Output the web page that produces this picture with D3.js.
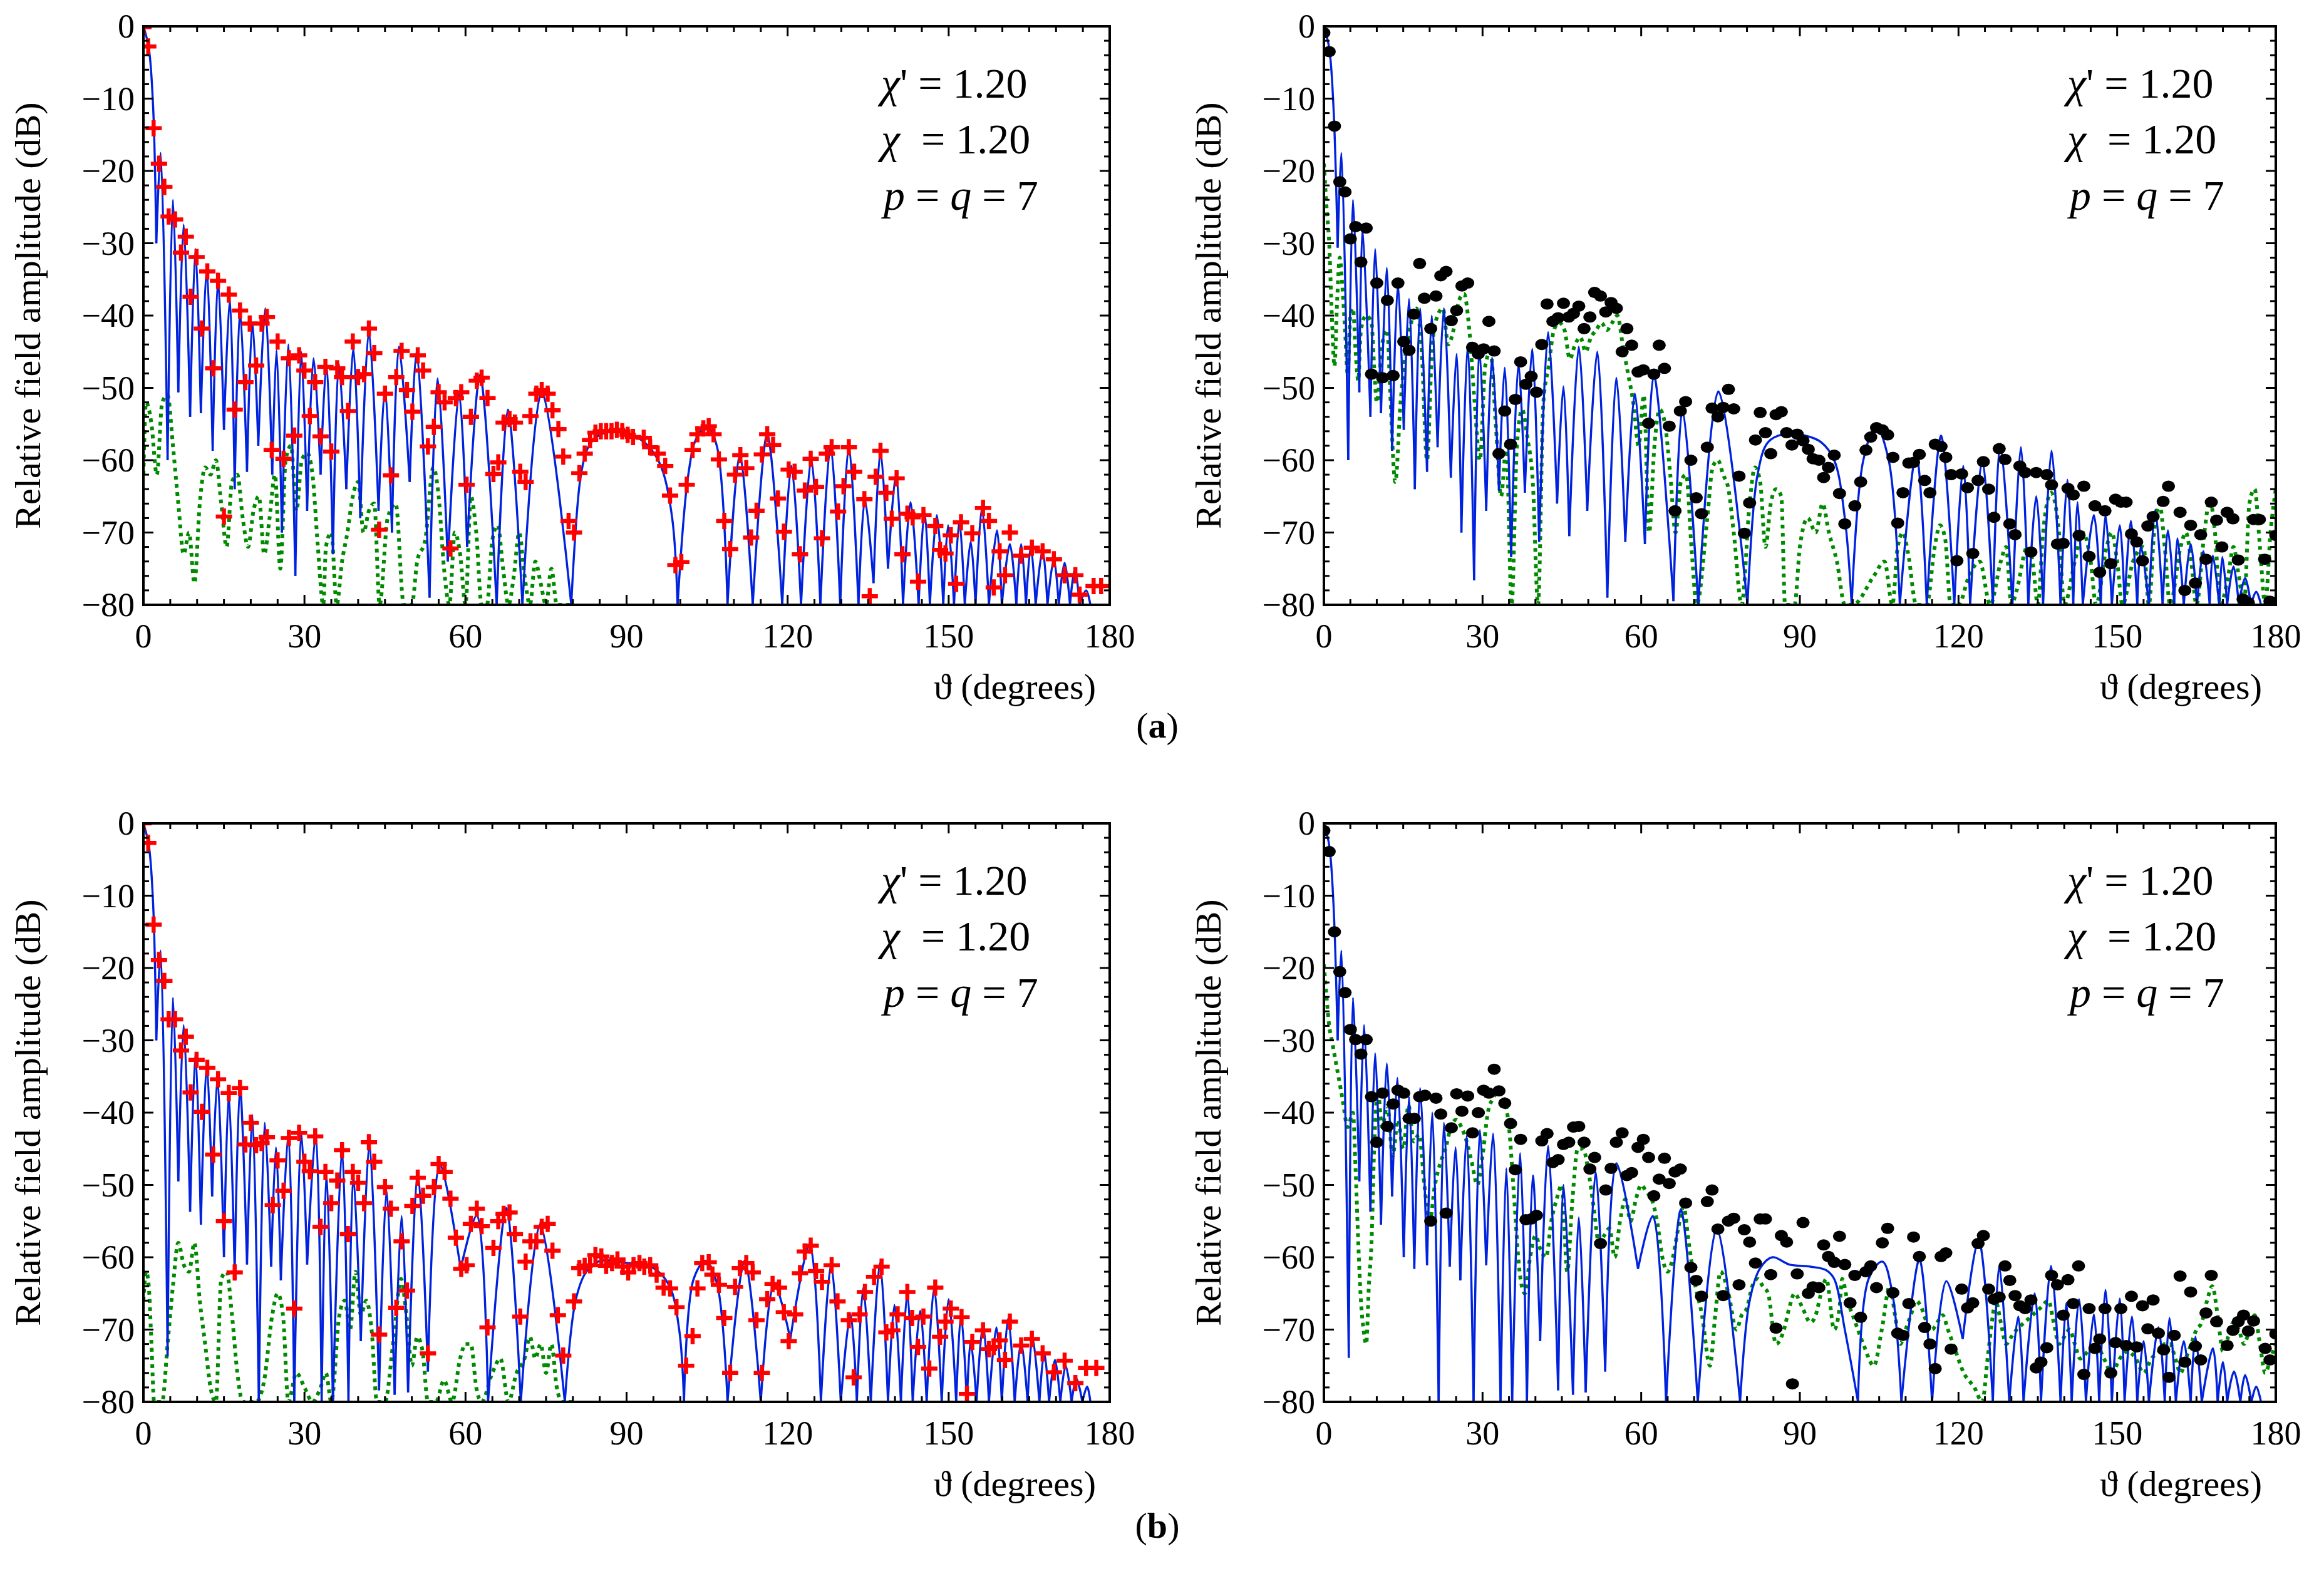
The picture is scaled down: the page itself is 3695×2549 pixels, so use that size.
<!DOCTYPE html>
<html><head><meta charset="utf-8">
<script src="https://cdn.jsdelivr.net/npm/d3@7"></script>
<style>body{margin:0;background:#fff}svg{display:block}</style>
</head><body>
<script>
const xTicks=[0,30,60,90,120,150,180];
const yTicks=[0,-10,-20,-30,-40,-50,-60,-70,-80];
const annotChi=["'",""];
const annotVal="1.20";

const blueA1=[[0,0],[1,-3],[1.8,-11],[2.4,-30],[3.2,-17.5],[4.5,-60],[5.5,-24],[6.5,-50.6],[7.5,-27.4],[8.7,-54],[9.7,-30.8],[10.7,-53.5],[11.8,-33.4],[12.9,-58.7],[13.9,-35],[15,-55.8],[16.1,-37.7],[17,-64],[18,-39.3],[19.3,-61.6],[20.3,-40.9],[21.4,-58],[22.7,-39],[24,-62],[24.8,-44.8],[25.8,-70],[27,-44],[28.3,-76],[29.4,-45],[30.5,-67],[31.7,-45.9],[33,-62],[34.1,-46.6],[35.3,-73],[36.4,-46.6],[37.8,-64],[39.1,-44.5],[40.4,-68],[42,-42.2],[43.8,-67],[45,-50],[46.3,-70],[47.6,-44.3],[49.6,-63],[50.9,-45],[53.3,-79],[54.8,-48.7],[56.7,-74],[58.8,-50.8],[60.3,-72],[62.7,-48.2],[65.8,-80],[67.9,-53],[70.6,-80],[74.2,-50.6],[79.7,-80],[81.5,-62],[83,-58],[85,-56.5],[88,-56],[91,-56.5],[94,-58],[96.5,-61],[98.5,-68],[99.5,-80],[101.5,-62],[103,-57],[105,-55.3],[106.8,-58],[108.8,-80],[111.1,-59.2],[113.5,-80],[116.2,-56.4],[119,-80],[120.7,-60.8],[122.5,-80],[124.4,-59.8],[126.1,-80],[128,-58],[129.8,-80],[131.4,-58],[133.2,-80],[134.4,-65.5],[136,-77],[137.3,-58.7],[138.7,-75],[140.2,-61.9],[141.5,-80],[142.9,-65.8],[144.4,-80],[145.5,-67],[146.5,-80],[147.8,-67.6],[149,-80],[149.9,-69],[151,-80],[152,-68.4],[153,-80],[154.1,-71.3],[155,-80],[156.2,-66.6],[157.5,-80],[159,-69.7],[159.9,-80],[161.4,-71.6],[162.6,-80],[163.5,-71.6],[164.4,-80],[165.3,-71.9],[166.2,-80],[167.5,-72.4],[168.4,-80],[169.6,-73.7],[170.5,-80],[171.6,-74.2],[172.6,-80],[173.5,-75],[174.4,-80],[175.6,-78],[176.4,-80]];
const greenA1=[[0,-62],[0.5,-52],[1.5,-55],[2.5,-62],[3.5,-52],[4.5,-51],[5.5,-58],[6.5,-66],[7.5,-73],[8.5,-70],[9.5,-77],[10.5,-66],[11.5,-61],[12.5,-62],[13.5,-60],[14.5,-66],[15.5,-72],[16.5,-63],[17.5,-62],[18.5,-68],[19.5,-72],[20.5,-67],[21.5,-65],[22.5,-73],[23.5,-68],[24.5,-62],[25.5,-75],[26.5,-60],[27.5,-58],[28.5,-67],[29.5,-60],[30.5,-59],[31.5,-62],[32.5,-72],[33.5,-80],[34,-72],[35,-70],[36,-80],[37,-74],[38,-70],[39,-65],[40,-63],[41,-70],[42,-67],[43,-66],[44,-80],[45.5,-68],[47,-66],[48.5,-80],[50,-80],[51,-74],[52.5,-71],[54,-61],[55,-65],[56,-75],[57,-80],[58,-70],[59,-73],[60,-80],[61,-65],[62,-70],[63,-80],[64,-80],[65,-71],[66,-69],[67,-75],[68,-80],[69,-76],[70,-70],[71,-76],[72,-80],[73,-74],[74,-77],[75,-80],[76,-75],[77,-80],[80,-80]];
const redA1=[[0,-0.1],[0.9,-2.8],[1.9,-14.1],[2.9,-19],[3.9,-22.2],[4.7,-26.3],[5.9,-26.7],[7,-31.3],[7.9,-29.1],[8.8,-37.4],[9.9,-31.9],[10.9,-41.8],[11.9,-33.9],[13,-47.3],[13.9,-35.2],[15,-67.8],[15.9,-37.1],[17,-53],[18,-39.3],[19,-49.2],[19.8,-41.1],[21,-46.9],[22,-41.1],[23,-40.2],[23.9,-58.6],[25,-43.6],[26.1,-59.8],[27.1,-45.9],[28.1,-56.6],[29,-45.5],[30,-47.6],[31,-53.9],[32,-49.2],[33,-56.7],[33.9,-47.1],[35,-58.8],[36.1,-47.3],[37,-48.5],[38.1,-53.2],[39,-43.6],[40,-48.5],[41.1,-48.1],[42,-41.8],[43,-45.2],[43.9,-69.6],[45,-50.8],[46.1,-62.1],[47.1,-48.5],[48.1,-44.9],[49.1,-50.3],[50.1,-53.3],[51.1,-45.5],[52.1,-47.6],[53,-58.1],[54.1,-55.4],[55,-50.6],[56.1,-52],[57.2,-72.2],[58.2,-51.4],[59.2,-50.6],[60.2,-63.4],[61,-54],[62.1,-49],[63,-48.6],[64.1,-51.4],[65.2,-61.9],[66.1,-60.3],[67.1,-54.8],[68.2,-54.3],[69.2,-54.8],[70.2,-61.6],[71.2,-63],[72.1,-53.9],[73.2,-50.8],[74.2,-50.3],[75.3,-50.8],[76.2,-53.1],[77.3,-55.7],[78.2,-59.5],[79.2,-68.4],[80.2,-70],[81.2,-61.8],[82.2,-59.1],[83.2,-57.2],[84.2,-56.2],[85.2,-56],[86.2,-56],[87.2,-56],[88.2,-55.8],[89.2,-56],[90.2,-56.5],[91.2,-56.8],[93.2,-56.9],[94.4,-58.2],[95.8,-59.1],[97.2,-60.8],[98.1,-64.9],[99.1,-74.5],[100.2,-74.1],[101.2,-63.4],[102.3,-58.6],[103.2,-56.4],[104.3,-55.6],[105.3,-55.3],[106.2,-56.4],[107.2,-59.9],[108.2,-68.4],[109.3,-72.3],[110.2,-62],[111.2,-59.3],[112.3,-61.1],[113.2,-70.7],[114.2,-67],[115.2,-59.2],[116.2,-56.4],[117.3,-57.9],[118.2,-65.3],[119.3,-69.9],[120.2,-61.3],[121.3,-61.6],[122.3,-73],[123.2,-64.2],[124.3,-59.8],[125.3,-63.7],[126.4,-70.8],[127.3,-59.1],[128.2,-58.2],[129.4,-67.1],[130.4,-63.6],[131.4,-58.2],[132.4,-61.6],[134.3,-65.4],[135.3,-78.8],[136.4,-62.3],[137.3,-58.7],[138.4,-64.5],[139.4,-68.1],[140.3,-62.5],[141.4,-73],[142.3,-67.4],[143.3,-67.9],[144.3,-76.8],[145.3,-67.6],[147.5,-69.1],[148.4,-72.4],[149.4,-72.9],[150.4,-70.4],[151.4,-77.1],[152.3,-68.6],[154.4,-70.1],[156.4,-66.6],[157.5,-68.4],[158.4,-77.6],[159.5,-72.6],[160.5,-75.9],[161.4,-70],[163.5,-73.2],[165.5,-72.1],[167.5,-72.6],[169.6,-73.7],[171.6,-75.9],[173.6,-75.9],[174.4,-78.6],[177,-77.4],[178.4,-77.4]];

const blueA2=[[0,0],[1,-3],[1.8,-11],[2.6,-30.6],[3.3,-17.5],[4.6,-60],[5.5,-24],[6.7,-50.6],[7.3,-28],[8.8,-54],[9.7,-30.8],[10.8,-53.5],[11.9,-33.4],[12.9,-58.7],[14,-35.6],[15.1,-55.8],[16.1,-37.7],[17.2,-64],[18.2,-39],[19.5,-61.6],[20.4,-40],[21.5,-58.2],[22.7,-39],[24,-62.4],[25.1,-45.3],[26,-70],[27.2,-44],[28.4,-76.6],[29.4,-44.5],[30.7,-67],[31.8,-45.8],[33.1,-64.2],[34.2,-47.2],[35.4,-73.4],[36.8,-46.6],[38,-64.5],[39.4,-44.6],[40.7,-71.3],[42.4,-42.3],[44.1,-66],[45.3,-49.8],[46.4,-70.5],[48.2,-44.3],[49.8,-67],[51.7,-45],[53.6,-79],[55.3,-48.6],[57,-71.3],[58.8,-50.8],[60.7,-71.6],[62.4,-48.2],[66.1,-79.5],[67.8,-53],[70.8,-80],[74.6,-50.5],[80.1,-80],[82,-62],[84,-57.5],[87,-56.4],[91,-56.6],[94,-57.5],[96.5,-60],[98.5,-68],[99.8,-80],[102,-60],[104.4,-55.3],[106.8,-60],[108.9,-80],[112,-59.2],[114,-80],[116.7,-56.6],[119.2,-80],[120.9,-60.8],[122.2,-80],[124.5,-60],[126.5,-80],[127.9,-57.7],[130.2,-80],[131.8,-58.2],[133.2,-80],[134.7,-65],[136,-80],[137.6,-58.7],[139.3,-80],[140.6,-62.7],[141.7,-80],[142.5,-65.8],[143.5,-80],[145.6,-67.6],[146.9,-80],[147.8,-67.6],[149,-80],[150.5,-69],[151.4,-80],[152.6,-68.4],[153.8,-80],[154.5,-71.9],[156,-80],[157.2,-66.9],[158.6,-80],[159.6,-69.7],[160.8,-80],[161.4,-70.8],[162.6,-80],[163.9,-71.6],[165.1,-80],[166.3,-72.6],[167.5,-80],[168.1,-73.2],[169.3,-80],[169.9,-73.4],[170.8,-80],[172,-74.7],[173,-80],[174.2,-76.3],[175.3,-80],[176.3,-78.2],[177.2,-80]];
const greenA2=[[0,-19],[0.5,-25],[1,-30],[1.5,-40],[2,-47],[2.5,-38],[3,-32],[3.5,-36],[4,-42],[4.5,-48],[5,-40],[5.5,-39],[6,-45],[6.5,-49],[7,-42],[8,-40],[9,-41],[9.5,-47],[10,-52],[11,-44],[12,-42],[12.5,-50],[13.5,-63],[14.5,-52],[15.5,-45],[16.5,-41],[17.5,-39],[18.5,-45],[19.5,-60],[20.5,-44],[21.5,-40],[22.5,-39],[23.5,-44],[24.5,-42],[25.5,-38],[26.5,-37],[27.5,-42],[28.5,-52],[29.5,-60],[30.5,-47],[31.5,-45],[32.5,-55],[33.5,-65],[34.5,-58],[35.5,-80],[36.5,-58],[37.5,-53],[38.5,-57],[39.5,-63],[40.5,-80],[41.5,-52],[42.5,-47],[43.5,-42],[44.5,-41],[45.5,-42],[46.5,-46],[47.5,-44],[48.5,-43],[49.5,-45],[50.5,-43],[51.5,-42],[52.5,-41],[53.5,-42],[54.5,-41],[55.5,-40],[56.5,-44],[57.5,-48],[58.5,-52],[59.5,-58],[60.5,-51],[61.5,-70],[62.5,-58],[63.5,-53],[64.5,-55],[65.5,-62],[66.5,-70],[67.5,-63],[68.5,-62],[69.5,-72],[70.5,-80],[72.5,-68],[73.5,-61],[74.5,-60],[75.5,-62],[76.5,-64],[77.5,-70],[79,-80],[80.5,-66],[81.5,-61],[82.5,-63],[83.5,-72],[84.5,-66],[85.5,-64],[86.5,-65],[87.2,-80],[89,-80],[90,-72],[91.5,-68],[93,-70],[94.3,-66],[95.5,-70],[97,-74],[98.5,-80],[100,-80],[104,-76],[106,-74],[107.5,-80],[108.5,-72],[109.5,-70],[110.5,-73],[112,-80],[114,-80],[115.5,-72],[116.5,-69],[117.5,-71],[118.5,-80],[120,-80],[122,-76],[124,-74],[126,-80],[128,-74],[129,-72],[130,-80],[131,-78],[133,-72],[134,-74],[135,-80],[136,-70],[137.5,-64.5],[139,-70],[140,-80],[142,-74],[143.5,-70],[145,-74],[146,-80],[148,-72],[149,-70],[150,-74],[151,-80],[153,-74],[155,-72],[156,-80],[157,-70],[158,-66],[159,-72],[160,-80],[162,-72],[163,-70],[164,-74],[165,-80],[166.5,-70],[167.5,-65.5],[168.5,-70],[169.5,-80],[171,-76],[172,-72],[173,-76],[174,-80],[175,-66],[176,-64],[177,-72],[178,-80],[179,-70],[180,-64]];
const dotsA2=[[0,-0.9],[1,-3.5],[2,-13.8],[3,-21.5],[4,-22.9],[5,-29.4],[6,-27.7],[7,-32.6],[8,-27.9],[9,-48.1],[10,-35.5],[11.1,-48.6],[12,-37.9],[13.1,-48.3],[14,-35.5],[15.1,-43.6],[16.1,-44.8],[17,-39.8],[18.1,-32.8],[19,-37.6],[20.2,-41.8],[21.2,-37.3],[22.1,-34.5],[23.1,-33.9],[24.1,-40.7],[25.1,-39.3],[26.1,-35.9],[27.2,-35.5],[28.1,-44.4],[29.2,-45.3],[30.2,-44.6],[31.2,-40.8],[32.2,-44.9],[33.1,-59.1],[34.2,-53.2],[35.3,-57.8],[36.2,-51.6],[37.2,-46.4],[38.2,-49.5],[39.2,-48.4],[40.2,-50.6],[41.2,-44],[42.2,-38.4],[43.3,-40.8],[44.3,-40.3],[45.3,-38.3],[46.3,-40.2],[47.2,-39.7],[48.2,-38.7],[49.2,-41.8],[50.3,-40.2],[51.2,-36.8],[52.3,-37.3],[53.3,-39.5],[54.3,-38.2],[55.3,-39],[56.4,-45],[57.3,-41.8],[58.2,-44.1],[59.4,-47.8],[60.4,-47.5],[61.4,-54.9],[62.4,-48.1],[63.4,-44.1],[64.4,-47.3],[65.3,-55.3],[66.4,-67],[67.4,-53.2],[68.4,-51.9],[69.4,-60],[70.4,-65.2],[71.4,-67.4],[72.5,-58.2],[73.4,-52.8],[74.5,-54],[75.5,-52.7],[76.5,-50.2],[77.5,-52.9],[78.5,-62.2],[79.5,-70.1],[80.5,-65.9],[81.6,-57.2],[82.5,-53.4],[83.5,-56.2],[84.5,-59.1],[85.5,-53.7],[86.5,-53.3],[87.5,-56.2],[88.5,-57.9],[89.5,-56.4],[90.6,-57.3],[91.6,-58.5],[92.5,-59.8],[93.6,-60],[94.5,-62.4],[95.4,-61],[96.5,-59.3],[97.5,-64.6],[98.5,-68.8],[100.4,-66.3],[101.5,-63],[102.5,-58.6],[103.4,-56.8],[104.5,-55.5],[105.6,-55.8],[106.6,-56.5],[107.6,-59.6],[108.5,-68.7],[109.5,-64.5],[110.6,-60.4],[111.5,-60.3],[112.6,-59.2],[113.6,-62.8],[114.6,-64.5],[115.6,-57.8],[116.7,-58.1],[117.6,-59.6],[118.6,-62],[119.7,-73.9],[120.6,-61.9],[121.7,-63.8],[122.7,-72.9],[123.7,-62.8],[124.7,-60.2],[125.7,-64],[126.7,-67.9],[127.7,-58.4],[128.8,-59.9],[129.7,-68.8],[130.7,-70.3],[131.6,-60.8],[132.6,-61.7],[133.7,-72.7],[134.7,-61.7],[136.7,-62],[137.6,-63.4],[138.7,-71.6],[139.8,-71.5],[140.7,-63.9],[141.7,-64.8],[142.8,-70.4],[143.7,-63.6],[144.7,-73.3],[145.8,-66.3],[146.7,-75.5],[147.7,-67],[148.8,-74.3],[149.7,-65.4],[150.7,-65.8],[151.7,-65.8],[152.7,-70.2],[153.7,-71.3],[154.8,-73.9],[155.8,-69.1],[156.8,-67.8],[158.7,-65.7],[159.7,-63.6],[161.9,-67.2],[162.8,-78],[163.9,-69],[164.8,-77],[165.8,-70.3],[166.8,-73.7],[167.8,-65.8],[168.8,-68.3],[169.8,-72],[170.8,-67.2],[171.9,-68.1],[172.9,-73.8],[173.8,-79.2],[174.8,-79.7],[175.8,-68.2],[176.9,-68.2],[177.9,-73.7],[178.9,-79.5],[180,-70.4]];

const blueB1=[[0,0],[1,-3],[1.8,-11],[2.4,-30],[3.2,-17.6],[4.5,-73.7],[5.5,-24.1],[6.5,-49.5],[7.5,-27.9],[8.7,-53.7],[9.7,-31.8],[10.7,-55.5],[11.8,-33.2],[12.8,-51.6],[13.8,-35.2],[15,-60],[15.9,-37.4],[17,-62],[18,-36.4],[19.3,-61],[20.3,-40.3],[21.5,-80],[22.6,-41.4],[23.8,-61.3],[24.7,-44.8],[25.6,-63.2],[27,-42.9],[28.1,-80],[29.4,-42.7],[30.5,-61],[32.1,-42.9],[33.2,-80],[34.1,-48.2],[35.3,-80],[37,-45],[38.2,-80],[39.1,-48.5],[40.5,-71.6],[42.1,-44.2],[43.9,-78.4],[45.3,-50.8],[46.8,-79],[48.1,-54.3],[49.3,-78.7],[51.1,-48.2],[53,-75.8],[55.2,-47.1],[59.1,-61.6],[62.1,-54.2],[64.2,-80],[67.6,-53.2],[70.3,-80],[73.9,-55.5],[78.5,-80],[80.5,-66],[82.5,-62],[85,-60.5],[90,-60.8],[95,-61.5],[98,-64],[99.8,-70],[100.7,-80],[102.5,-63],[104.7,-60.5],[106.8,-63.5],[108.8,-80],[112,-60.5],[115,-80],[117.5,-63.7],[120.5,-71.3],[124.1,-58.2],[126.2,-80],[128.1,-61],[129.9,-80],[131.7,-67.9],[132.9,-80],[134.1,-64.2],[135.5,-80],[137.2,-60.8],[138.7,-80],[139.9,-66.6],[141.1,-80],[142.3,-64.8],[143.3,-80],[144.7,-67.4],[145.9,-80],[147.3,-64.2],[148.7,-80],[150,-65.8],[151.4,-80],[152.3,-67.9],[153.4,-80],[154.1,-71.6],[155.2,-80],[156.4,-69.2],[157.5,-80],[158.9,-69.7],[159.9,-80],[161.1,-68.4],[162.3,-80],[163.5,-71.8],[164.7,-80],[165.6,-71],[166.9,-80],[167.8,-73.1],[168.7,-80],[169.8,-74.2],[170.8,-80],[171.8,-75],[172.9,-80],[173.8,-76.8],[174.9,-80],[175.8,-77.9],[176.4,-80]];
const greenB1=[[0,-66],[0.5,-62],[1,-64],[1.5,-72],[2,-80],[3.5,-80],[4.5,-72],[5.5,-64],[6.5,-58],[7.5,-61],[8.5,-62],[9.5,-58],[10.5,-66],[11.5,-72],[12.5,-78],[13.5,-80],[14.5,-63],[15.5,-62],[16.5,-68],[17.5,-76],[18.5,-80],[21,-80],[22.5,-77],[24,-68],[25,-65],[26,-68],[27,-80],[28.5,-76],[30,-78],[31.5,-80],[33,-78],[34,-76],[35,-80],[36.5,-68],[37.5,-66],[38.5,-70],[39.5,-62],[40.5,-68],[41.5,-66],[42.5,-70],[43.5,-80],[45,-80],[46.5,-72],[48,-63],[49,-68],[50,-75],[51,-71],[52,-73],[53,-80],[54.5,-80],[56,-77],[57.5,-80],[59,-74],[60,-72],[61,-72],[62,-78],[63,-80],[65,-76],[66.5,-74],[68,-80],[69.5,-76],[71,-74],[72,-71],[73,-74],[74,-72],[75,-76],[76,-72],[77,-78],[78,-80],[80,-80]];
const redB1=[[0,0],[0.9,-2.7],[1.9,-14],[2.9,-18.9],[3.9,-21.8],[4.7,-27.1],[5.9,-27.1],[7,-31.4],[7.9,-29.5],[8.8,-37.2],[9.9,-32.7],[10.9,-39.9],[11.9,-33.8],[13,-45.8],[13.9,-35.4],[15,-55],[15.9,-37.3],[17,-62.1],[18,-36.6],[19,-44.4],[20,-41.4],[21,-44.5],[22,-44.2],[23,-43.4],[24.1,-52.8],[25,-46.6],[26.1,-50.8],[27.1,-43.5],[28.1,-67.1],[29,-42.8],[30,-46.8],[31,-48.1],[32,-43.3],[33,-55.8],[33.9,-48.2],[35,-52.5],[36.1,-49.4],[37,-45.2],[38.1,-56.8],[39,-48.2],[40,-49.7],[41.1,-52.5],[42,-44.1],[43,-46.8],[43.9,-70.7],[45,-50.3],[46.1,-53.3],[47.1,-67],[48.1,-57.8],[49.1,-64.6],[50.1,-52.9],[51.1,-49],[52.1,-51.5],[53,-73.3],[54.1,-50.3],[55,-47.1],[56.1,-48.2],[57.2,-51.9],[58.2,-57.3],[59.2,-61.6],[60.2,-61.1],[61,-55.4],[62.1,-53.3],[63,-55.7],[64.1,-69.7],[65.2,-58.7],[66.1,-55],[67.1,-54],[68.2,-53.8],[69.2,-56.8],[70.2,-68.2],[71.2,-60.6],[72.1,-57.8],[73.2,-57.8],[74.2,-55.8],[75.3,-55.4],[76.2,-59.1],[77.2,-68],[78.2,-73.6],[80.2,-66.1],[81.2,-61.5],[82.2,-61.2],[83.2,-61.1],[84.2,-59.7],[85.3,-59.9],[86.2,-61.2],[87.3,-60.8],[88.3,-60.3],[89.3,-61.3],[90.3,-62.1],[91.3,-61.1],[92.4,-60.8],[93.3,-61.3],[94.4,-61.1],[95.6,-62.4],[96.9,-64.2],[98.1,-64.3],[99.3,-66.9],[101.1,-75],[102.3,-70.9],[103.2,-64.3],[104.1,-60.8],[105.3,-60.7],[106,-62.4],[107.2,-63.8],[108.2,-68.4],[109.3,-76],[110.2,-64.1],[111.1,-61.5],[112.3,-60.8],[113.5,-62.1],[114.2,-68.7],[115.2,-76],[116.2,-65.8],[117.2,-63.7],[118.4,-64.2],[119.3,-67.6],[120.2,-71.6],[121.4,-67.9],[122.3,-62.2],[123.2,-59.2],[124.3,-58.4],[125.3,-61.9],[126.4,-63.4],[128.2,-61.1],[129.3,-66.1],[131.4,-68.7],[132.3,-76.6],[133.4,-67.9],[134.4,-64.8],[136.1,-62.7],[137.5,-61.3],[138.4,-70.4],[139.5,-70.1],[140.5,-67.9],[142.3,-64.8],[143.2,-68.4],[144.3,-72.4],[145.3,-68.2],[146.4,-75.4],[147.5,-64.2],[148.4,-71],[149.4,-68.9],[150.4,-67.1],[152.4,-68.3],[153.4,-78.9],[154.4,-71.7],[156.4,-70.1],[157.5,-72.7],[158.4,-72.4],[159.5,-71.5],[160.5,-74.2],[161.4,-68.9],[163.5,-72.2],[165.5,-71.3],[167.5,-73.3],[169.6,-75.9],[171.6,-74.3],[173.6,-77.4],[175.6,-75.3],[177.5,-75.3]];

const blueB2=[[0,0],[1,-3],[1.8,-11],[2.6,-30],[3.3,-17.6],[4.7,-73.9],[5.5,-24.1],[6.7,-49.5],[7.6,-27.9],[8.8,-53.7],[9.7,-31.8],[10.8,-55.5],[11.9,-33.2],[12.9,-51.6],[13.9,-35.2],[15.1,-60],[16.1,-37.8],[17.1,-61.6],[18.2,-36.6],[19.5,-61.1],[20.5,-40],[21.7,-80],[22.7,-41.4],[23.8,-61.3],[24.9,-44.8],[25.8,-63.2],[27,-43.2],[28.3,-80],[29.5,-42.4],[30.7,-61.1],[32,-42.9],[33.4,-80],[34.5,-47.7],[35.6,-80],[37.1,-45.6],[38.4,-80],[39.5,-48.7],[40.9,-71.6],[42.4,-44.6],[44.3,-78.4],[45.3,-50],[47.1,-79],[48.2,-54.5],[49.5,-78.7],[51.4,-48.2],[53.2,-75.8],[55.3,-47],[59.4,-61.6],[62.2,-54.3],[64.7,-80],[67.5,-53.4],[70.7,-80],[74.3,-56],[78.7,-80],[80.5,-66],[82.5,-61.5],[84.8,-60],[88,-61],[92,-61.3],[95,-61.8],[96.5,-63],[98.5,-70],[101,-80],[103,-63],[105.6,-60.6],[107.5,-65],[109.2,-80],[112.6,-60.3],[115,-80],[117.7,-63.3],[120.8,-71.3],[123.8,-57.6],[126.5,-80],[127.7,-61.2],[129.6,-80],[131.3,-68.2],[132.3,-80],[134.4,-65],[135.6,-80],[137.5,-61.2],[139.3,-80],[140.4,-66.3],[141.4,-80],[142.8,-65.8],[144.1,-80],[145.6,-67.9],[146.6,-80],[147.8,-64.5],[149,-80],[150.5,-65.7],[151.4,-80],[152.8,-68.2],[153.8,-80],[155,-71.6],[156,-80],[157.8,-69.7],[159,-80],[159.9,-68.4],[161.1,-80],[162.6,-71.6],[163.9,-80],[164.8,-71],[166,-80],[168.1,-72.6],[169,-80],[170,-74.5],[170.8,-80],[172.1,-75.8],[173.3,-80],[174.2,-76.3],[175.4,-80],[176.3,-77.9],[177.2,-80]];
const greenB2=[[0,-19.5],[0.5,-24],[1,-28],[1.5,-30],[2,-32],[2.5,-34],[3,-36],[3.5,-38],[4.5,-42],[5.5,-40],[6,-48],[6.5,-58],[7,-66],[7.5,-70],[8,-72],[8.5,-64],[9,-58],[9.5,-45],[10.2,-37],[11,-42],[12,-39],[13,-46],[14,-41],[15,-45],[16,-39],[17,-44],[18,-43],[19,-50],[20,-55],[21,-50],[22,-47],[23,-45],[24,-42],[25,-41],[26,-42],[27,-44],[28,-47],[29,-50],[30,-46],[31,-40],[32,-38],[33,-37],[34,-38],[35,-42],[36,-52],[37,-62],[38,-65],[39,-60],[40,-57],[41,-59],[42,-60],[43,-55],[44,-52],[45,-50],[46,-62],[47,-52],[48,-45],[49,-45],[50,-48],[51,-53],[52,-58],[53,-57],[54,-56],[55,-60],[56,-55],[57,-52],[58,-55],[59,-52],[60,-50],[61,-51],[62,-52],[63,-55],[64,-60],[65,-62],[66,-60],[67,-56],[68,-53],[69,-58],[70,-63],[71.5,-68],[73,-75],[74,-68],[75,-62],[76.5,-65],[78,-70],[79,-68],[80,-67],[81,-64],[82,-63],[83,-64],[84,-65],[85.5,-72],[87,-70],[88,-67],[89,-65],[90.5,-67],[92,-69],[93,-68],[94,-65],[95,-63],[96.5,-70],[97.5,-67],[98,-63],[99,-66],[100,-68],[102,-72],[104,-75],[105.5,-70],[107,-64],[108,-68],[109,-72],[110,-70],[111,-68],[112,-66],[113,-67],[114,-69],[115,-70],[116,-69],[117,-68],[118,-70],[119,-72],[121,-76],[123,-78],[124.5,-80],[125.5,-74],[126.5,-68],[127,-66],[128,-69],[129,-72],[130,-71],[131,-70],[132.5,-69],[134,-68],[135.5,-67],[137,-66],[138,-69],[139,-72],[140,-71],[141,-70],[142,-72],[143,-74],[144.5,-73],[146,-72],[147.5,-74],[149,-76],[150.5,-74],[152,-73],[153.5,-74],[155,-76],[156.5,-74],[158,-73],[159,-72],[160,-72],[161,-74],[162,-76],[163,-74],[164,-72],[165,-70],[166,-69],[167,-66],[168,-64],[169,-68],[170,-73],[171,-71],[172,-69],[173,-70],[174,-72],[175,-70],[176,-68],[177,-72],[178,-76],[179,-74],[180,-72]];
const dotsB2=[[0,-1],[1,-3.9],[2,-15],[3,-20.5],[4,-23.4],[5,-28.5],[6,-29.9],[7,-31.9],[8,-29.9],[9,-37.8],[10,-44.1],[11.1,-37.3],[12,-41.9],[13.1,-38.8],[14,-36.9],[15.1,-37.3],[16.1,-40.8],[17.1,-40.8],[18.1,-37.8],[19.1,-37.6],[20.2,-55],[21.2,-38],[22.1,-40.2],[23.1,-53.9],[24.1,-42.1],[25.1,-37.4],[26.1,-39.8],[27.2,-37.7],[28.1,-42.8],[29.2,-40],[30.2,-36.9],[31.2,-37.3],[32.2,-34],[33.1,-37],[34.2,-38.7],[35.3,-41.5],[36.2,-47.9],[37.2,-43.7],[38.2,-54.8],[39.2,-54.7],[40.2,-54.2],[41.2,-43.9],[42.2,-42.9],[43.3,-46.9],[44.3,-46.5],[45.3,-44.4],[46.3,-44.1],[47.2,-42],[48.2,-41.9],[49.2,-44.1],[50.3,-47.8],[51.2,-46.2],[52.3,-58.1],[53.3,-50.7],[54.3,-47.7],[55.3,-44.1],[56.4,-42.8],[57.3,-48.7],[58.2,-48.3],[59.4,-44.8],[60.4,-43.7],[61.4,-46.2],[62.4,-51.5],[63.4,-49.2],[64.4,-46.3],[65.3,-49.8],[66.4,-48.2],[67.4,-47.8],[68.4,-52.5],[69.4,-61.4],[70.4,-63.2],[71.4,-65.4],[72.5,-52.3],[73.4,-50.7],[74.5,-56.1],[75.5,-65.3],[76.5,-55],[77.5,-54.6],[78.5,-63.8],[79.5,-56.2],[80.5,-57.9],[81.6,-60.8],[82.5,-54.7],[83.5,-54.7],[84.5,-62.4],[85.5,-69.8],[86.5,-57],[87.5,-57.9],[88.6,-77.5],[89.5,-62.3],[90.6,-55.2],[91.6,-65],[92.5,-64.1],[93.6,-64.2],[94.5,-58.3],[95.4,-59.9],[96.5,-60.7],[97.5,-57.1],[98.5,-61],[99.5,-66.3],[100.4,-62.5],[101.5,-68.3],[102.5,-62],[103.4,-61.2],[104.5,-64.2],[105.6,-58],[106.6,-56],[107.6,-64.9],[108.5,-70.5],[109.5,-70.8],[110.6,-66.4],[111.5,-57.2],[112.6,-59.9],[113.6,-69.7],[114.6,-72],[115.6,-75.4],[116.7,-59.9],[117.6,-59.4],[118.6,-72.7],[120.6,-64.4],[121.7,-67],[122.7,-66.3],[123.7,-58.1],[124.7,-57],[125.7,-64.4],[126.7,-65.8],[127.7,-65.5],[128.8,-61.2],[129.7,-63.2],[130.7,-65.3],[131.6,-66.7],[132.6,-67.1],[133.7,-65.9],[134.7,-75.3],[135.6,-74.5],[136.7,-72.5],[137.6,-62.5],[138.7,-63.8],[139.8,-68],[140.7,-63.1],[141.7,-66.4],[142.7,-61.2],[143.7,-76.2],[144.7,-67.1],[145.8,-72.6],[146.7,-71.3],[147.7,-67.1],[148.8,-76],[149.7,-71.8],[150.7,-67.1],[151.7,-72.2],[152.7,-65.4],[153.7,-72.4],[154.8,-66.7],[155.8,-69.9],[156.8,-65.9],[157.8,-70.5],[158.8,-72.8],[159.8,-76.6],[160.8,-70.8],[161.9,-62.6],[162.8,-74.5],[163.9,-64.8],[164.8,-72.3],[165.8,-74.2],[166.8,-67.7],[167.8,-62.5],[168.8,-68.9],[170.8,-72.2],[171.9,-70.1],[172.9,-68.9],[173.9,-68],[174.8,-70.2],[175.8,-68.8],[178,-72.6],[178.9,-74.2],[180,-70.6]];

const panels=[
 {l:229,r:1772,t:42,b:966,blue:blueA1,green:greenA1,pts:redA1,mk:"cross"},
 {l:2114,r:3634,t:42,b:966,blue:blueA2,green:greenA2,pts:dotsA2,mk:"dot"},
 {l:229,r:1772,t:1315,b:2239,blue:blueB1,green:greenB1,pts:redB1,mk:"cross"},
 {l:2114,r:3634,t:1315,b:2239,blue:blueB2,green:greenB2,pts:dotsB2,mk:"dot"}
];

const FONT="'Liberation Serif','Times New Roman','DejaVu Serif',serif";
const W=3695,H=2549;
const svg=d3.select("body").append("svg").attr("width",W).attr("height",H).attr("font-family",FONT);
svg.append("rect").attr("width",W).attr("height",H).attr("fill","#fff");

function lobes(arr){
  const segs=[];let cur=[arr[0]];
  for(let i=1;i<arr.length;i++){
    cur.push(arr[i]);
    const isMin=i<arr.length-1&&arr[i][1]<arr[i-1][1]&&arr[i][1]<arr[i+1][1];
    if(isMin){segs.push(cur);cur=[arr[i]];}
  }
  if(cur.length>1)segs.push(cur);
  return segs;
}

panels.forEach((p,pi)=>{
  const x=d3.scaleLinear().domain([0,180]).range([p.l,p.r]);
  const y=d3.scaleLinear().domain([-80,0]).range([p.b,p.t]);
  const g=svg.append("g");
  const cid="clip"+pi;
  g.append("clipPath").attr("id",cid).append("rect").attr("x",p.l).attr("y",p.t).attr("width",p.r-p.l).attr("height",p.b-p.t);
  const pg=g.append("g").attr("clip-path",`url(#${cid})`);
  pg.append("path").datum(p.green).attr("fill","none").attr("stroke","#008a00").attr("stroke-width",6).attr("stroke-dasharray","6,7")
    .attr("d",d3.line().x(d=>x(d[0])).y(d=>y(d[1])).curve(d3.curveMonotoneX));
  const bl=d3.line().x(d=>x(d[0])).y(d=>y(d[1])).curve(d3.curveCatmullRom.alpha(0.5));
  lobes(p.blue).forEach(s=>{
    pg.append("path").datum(s).attr("fill","none").attr("stroke","#0022dd").attr("stroke-width",3.4).attr("d",bl);
  });
  if(p.mk==="cross"){
    pg.selectAll(null).data(p.pts).enter().append("path")
      .attr("d",d=>{const cx=x(d[0]),cy=y(d[1]),s=13;return `M${cx-s},${cy}H${cx+s}M${cx},${cy-s}V${cy+s}`;})
      .attr("stroke","#ff0000").attr("stroke-width",6.5).attr("fill","none");
  }else{
    pg.selectAll(null).data(p.pts).enter().append("ellipse")
      .attr("cx",d=>x(d[0])).attr("cy",d=>y(d[1])).attr("rx",10.5).attr("ry",9).attr("fill","#000");
  }
  g.append("rect").attr("x",p.l).attr("y",p.t).attr("width",p.r-p.l).attr("height",p.b-p.t).attr("fill","none").attr("stroke","#000").attr("stroke-width",4);
  const tk=g.append("g").attr("stroke","#000").attr("stroke-width",3);
  d3.range(0,181,5).forEach(v=>{const L=v%30===0?16:9;
    tk.append("line").attr("x1",x(v)).attr("x2",x(v)).attr("y1",p.b).attr("y2",p.b-L);
    tk.append("line").attr("x1",x(v)).attr("x2",x(v)).attr("y1",p.t).attr("y2",p.t+L);});
  d3.range(-80,1,2).forEach(v=>{const L=v%10===0?16:9;
    tk.append("line").attr("y1",y(v)).attr("y2",y(v)).attr("x1",p.l).attr("x2",p.l+L);
    tk.append("line").attr("y1",y(v)).attr("y2",y(v)).attr("x1",p.r).attr("x2",p.r-L);});
  xTicks.forEach(v=>g.append("text").attr("x",x(v)).attr("y",p.b+68).attr("text-anchor","middle").attr("font-size",54).text(v));
  yTicks.forEach(v=>g.append("text").attr("x",p.l-14).attr("y",y(v)+18).attr("text-anchor","end").attr("font-size",54).text(v===0?"0":"\u2212"+Math.abs(v)));
  g.append("text").attr("transform",`translate(${p.l-165},${(p.t+p.b)/2}) rotate(-90)`).attr("text-anchor","middle").attr("font-size",58).text("Relative field amplitude (dB)");
  g.append("text").attr("x",p.r-22).attr("y",p.b+150).attr("text-anchor","end").attr("font-size",58).text("\u03D1 (degrees)");
  const ax=p.l+(pi%2?1187:1178);
  [0,1].forEach(k=>{
    const t=g.append("text").attr("x",ax).attr("y",p.t+(k?203:114)).attr("font-size",68).attr("xml:space","preserve");
    t.append("tspan").attr("font-style","italic").text("\u03C7");
    t.append("tspan").text(annotChi[k]+(k?"  ":" ")+"= "+annotVal);
  });
  const t3=g.append("text").attr("x",ax+4).attr("y",p.t+293).attr("font-size",68).attr("xml:space","preserve");
  t3.append("tspan").attr("font-style","italic").text("p");
  t3.append("tspan").text(" = ");
  t3.append("tspan").attr("font-style","italic").text("q");
  t3.append("tspan").text(" = 7");
});
[["a",1178],["b",2456]].forEach(([c,yy])=>{const t=svg.append("text").attr("x",1848).attr("y",yy).attr("text-anchor","middle").attr("font-size",58);
  t.append("tspan").text("(");t.append("tspan").attr("font-weight","bold").text(c);t.append("tspan").text(")");});
</script>
</body></html>
